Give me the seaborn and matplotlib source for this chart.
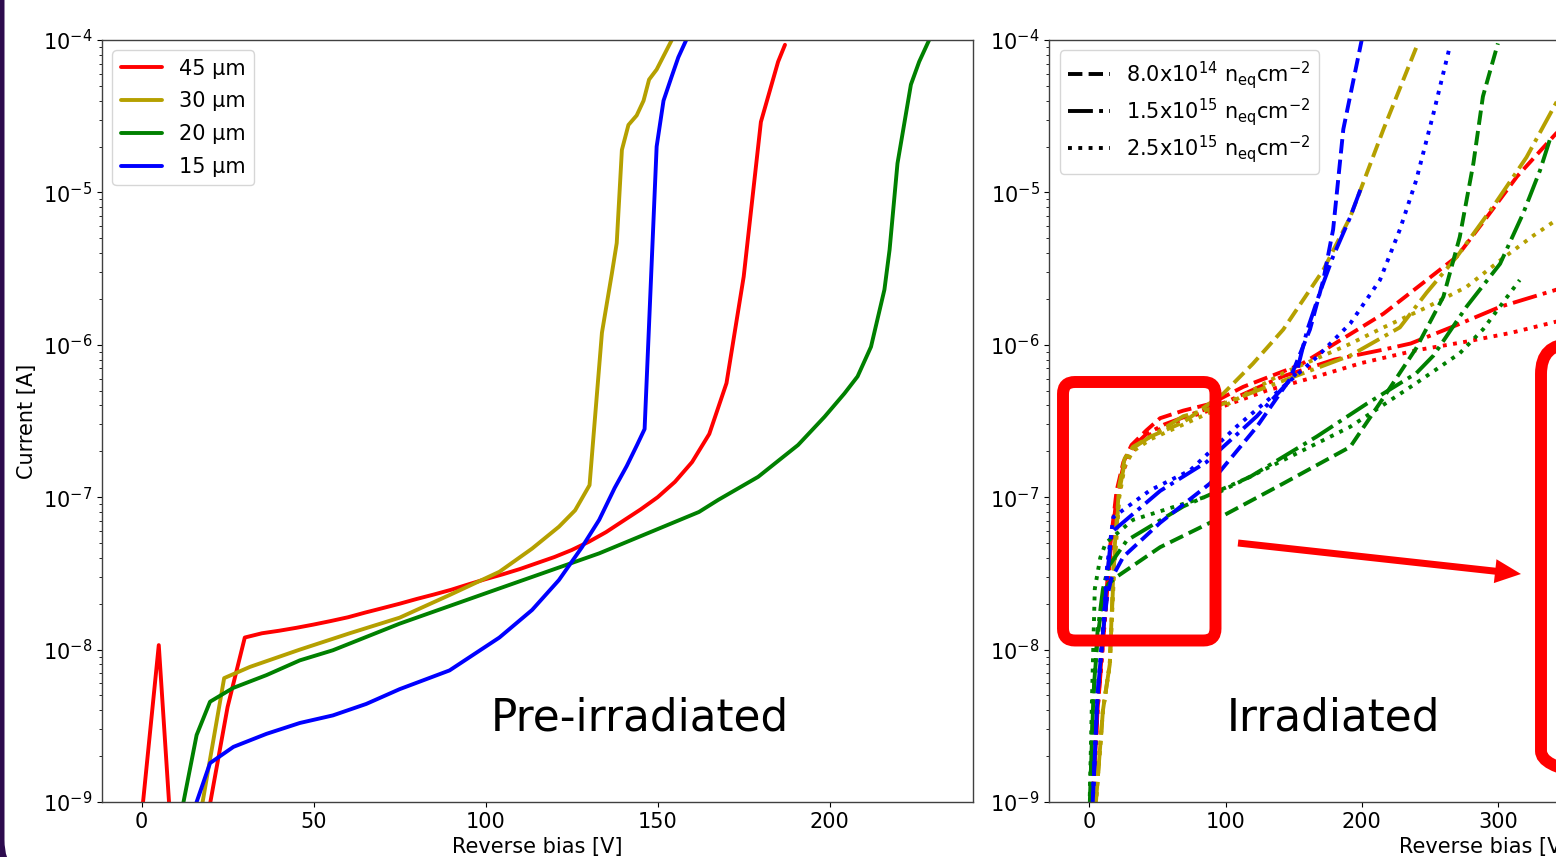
import pandas as pd
import seaborn as sns
import matplotlib
matplotlib.use('Agg')
import matplotlib.pyplot as plt
from matplotlib.lines import Line2D
from matplotlib.patches import FancyBboxPatch, FancyArrow

# --- Pre-irradiated IV curves (bias [V], current [A]) ---
v_45 = [0, 5, 10, 15, 20, 25, 30, 35, 40, 45, 50, 55, 60, 65, 70, 75, 80, 85, 90, 95, 100,
        105, 110, 115, 120, 125, 130, 135, 140, 145, 150, 155, 160, 165, 170, 175, 180, 185, 187]
i_45 = [8e-10, 1.07e-8, 2e-10, 1e-10, 1e-9, 4.2e-9, 1.2e-8, 1.28e-8, 1.33e-8, 1.39e-8, 1.46e-8,
        1.54e-8, 1.63e-8, 1.75e-8, 1.87e-8, 2.0e-8, 2.15e-8, 2.3e-8, 2.47e-8, 2.68e-8, 2.9e-8,
        3.12e-8, 3.38e-8, 3.7e-8, 4.05e-8, 4.5e-8, 5.1e-8, 5.9e-8, 7.0e-8, 8.3e-8, 1.0e-7,
        1.26e-7, 1.7e-7, 2.6e-7, 5.6e-7, 2.8e-6, 2.9e-5, 7.2e-5, 9.3e-5]

v_30 = [15, 24, 31.5, 46, 60.5, 75, 89.5, 104, 113.5, 121.3, 126, 130.2, 131.4, 133.8, 136.7,
        138.1, 139.6, 141.5, 143.9, 145.9, 147.5, 149.7, 154.1]
i_30 = [4.4e-10, 6.5e-9, 7.7e-9, 1.0e-8, 1.28e-8, 1.62e-8, 2.28e-8, 3.24e-8, 4.6e-8, 6.4e-8,
        8.2e-8, 1.2e-7, 2.6e-7, 1.2e-6, 2.95e-6, 4.65e-6, 1.9e-5, 2.77e-5, 3.2e-5, 4.0e-5,
        5.5e-5, 6.4e-5, 1.0e-4]

v_20 = [10, 16, 19.9, 26.6, 36.3, 46, 55.6, 75, 104, 133, 162, 167.6, 179.2, 190.8, 198.5,
        204.3, 208.1, 212, 215.9, 217.4, 219.7, 223.6, 226, 228.9]
i_20 = [5.6e-10, 2.75e-9, 4.55e-9, 5.6e-9, 6.8e-9, 8.5e-9, 9.9e-9, 1.48e-8, 2.52e-8, 4.28e-8,
        8.0e-8, 9.6e-8, 1.36e-7, 2.2e-7, 3.37e-7, 4.8e-7, 6.2e-7, 9.7e-7, 2.3e-6, 4.2e-6,
        1.55e-5, 5.1e-5, 7.2e-5, 1.0e-4]

v_15 = [15, 19.9, 26.7, 36.3, 46, 55.6, 65.3, 75, 89.5, 104, 113.5, 121.3, 128, 133, 137.5,
        141, 144, 146.2, 149.7, 151.7, 154, 156, 158.3]
i_15 = [8.6e-10, 1.8e-9, 2.3e-9, 2.8e-9, 3.3e-9, 3.7e-9, 4.4e-9, 5.5e-9, 7.3e-9, 1.2e-8,
        1.82e-8, 2.86e-8, 4.7e-8, 7.1e-8, 1.15e-7, 1.6e-7, 2.2e-7, 2.8e-7, 2.0e-5, 4.0e-5,
        5.7e-5, 7.7e-5, 1.0e-4]

# --- Irradiated IV curves, one per thickness and fluence ---
v_45_f8 = [2, 6, 10, 15, 20, 25, 31, 42, 52, 69, 89, 113, 155, 216, 270, 292, 314, 343, 355]
i_45_f8 = [8e-10, 4e-9, 1.2e-8, 4.5e-8, 1.1e-7, 1.7e-7, 2.2e-7, 2.75e-7, 3.3e-7, 3.7e-7,
           4.1e-7, 5.3e-7, 7.4e-7, 1.6e-6, 3.8e-6, 6.9e-6, 1.27e-5, 2.45e-5, 3.2e-5]
v_45_f15 = [2, 6, 10, 15, 20, 25, 31, 42, 55, 75, 100, 142, 180, 216, 236, 270, 302, 343, 355]
i_45_f15 = [8e-10, 4e-9, 1.1e-8, 4e-8, 1.0e-7, 1.6e-7, 2.1e-7, 2.6e-7, 3.0e-7, 3.5e-7,
            4.2e-7, 6.2e-7, 8.0e-7, 9.3e-7, 1.02e-6, 1.35e-6, 1.78e-6, 2.3e-6, 2.5e-6]
v_45_f25 = [2, 6, 10, 15, 20, 25, 31, 42, 55, 75, 100, 130, 167, 200, 240, 277, 310, 343, 355]
i_45_f25 = [8e-10, 4e-9, 1.1e-8, 3.8e-8, 9e-8, 1.5e-7, 2.0e-7, 2.5e-7, 2.9e-7, 3.4e-7,
            4.0e-7, 5.0e-7, 6.2e-7, 7.6e-7, 9.2e-7, 1.05e-6, 1.2e-6, 1.42e-6, 1.5e-6]

v_30_f8 = [4, 10, 15, 18, 22, 26, 32, 45, 69, 98.5, 120, 142.4, 171.8, 191.6, 216, 240]
i_30_f8 = [8e-10, 4e-9, 8e-9, 4e-8, 1.2e-7, 1.8e-7, 2.14e-7, 2.5e-7, 3.1e-7, 4.8e-7, 7.5e-7,
           1.26e-6, 3.1e-6, 6.9e-6, 2.6e-5, 8.9e-5]
v_30_f15 = [4, 10, 15, 18, 22, 26, 32, 45, 69, 88.6, 128, 191.6, 228, 247.7, 270, 296.6, 321, 343, 355]
i_30_f15 = [8e-10, 4e-9, 8e-9, 3.5e-8, 1.1e-7, 1.7e-7, 2.1e-7, 2.5e-7, 3.4e-7, 3.8e-7, 5.2e-7,
            8.5e-7, 1.3e-6, 2.2e-6, 3.8e-6, 8.1e-6, 1.7e-5, 3.9e-5, 5e-5]
v_30_f25 = [4, 10, 15, 18, 22, 26, 32, 45, 69, 100, 142, 190, 216, 247, 277, 302, 326, 343, 355]
i_30_f25 = [8e-10, 4e-9, 8e-9, 3e-8, 1e-7, 1.6e-7, 2.0e-7, 2.4e-7, 3.0e-7, 4.0e-7, 6.5e-7,
            1.0e-6, 1.3e-6, 1.75e-6, 2.4e-6, 3.6e-6, 5.2e-6, 6.6e-6, 7.5e-6]

v_20_f8 = [0, 3, 6, 10, 14, 20, 52, 88.6, 142.4, 191.6, 216, 240, 260, 272, 282, 289, 300]
i_20_f8 = [8e-10, 5e-9, 1.2e-8, 2.2e-8, 2.7e-8, 3.0e-8, 4.7e-8, 6.8e-8, 1.23e-7, 2.14e-7,
           4.5e-7, 9.5e-7, 2.07e-6, 5.1e-6, 1.55e-5, 4.26e-5, 9.5e-5]
v_20_f15 = [0, 3, 6, 10, 14, 27.5, 69, 118, 167, 203.6, 240, 252.7, 277, 301.6, 318.6, 331, 338]
i_20_f15 = [8e-10, 5e-9, 1.3e-8, 2.5e-8, 3.5e-8, 5.2e-8, 8.7e-8, 1.36e-7, 2.5e-7, 4.1e-7,
            6.5e-7, 8.5e-7, 1.78e-6, 3.4e-6, 7.3e-6, 1.4e-5, 2.2e-5]
v_20_f25 = [0, 2, 4, 8, 12, 32, 93.5, 142.4, 191.6, 240, 272, 289, 316]
i_20_f25 = [8e-10, 5e-9, 2.5e-8, 4e-8, 5e-8, 7.1e-8, 1.06e-7, 1.75e-7, 2.9e-7, 5.6e-7,
            8.8e-7, 1.26e-6, 2.66e-6]

v_15_f8 = [2, 6, 10, 13, 16, 25, 52, 88.6, 123, 147, 162, 171.8, 179, 186.5, 200]
i_15_f8 = [8e-10, 5e-9, 1.3e-8, 2.2e-8, 2.9e-8, 4.07e-8, 6.8e-8, 1.23e-7, 2.9e-7, 5.9e-7,
           1.26e-6, 2.66e-6, 5.7e-6, 2.6e-5, 1e-4]
v_15_f15 = [2, 6, 10, 13, 16.4, 52, 86, 123, 152, 160, 170, 179, 191.6, 199]
i_15_f15 = [8e-10, 5e-9, 1.3e-8, 3e-8, 5.9e-8, 1.1e-7, 1.7e-7, 3.4e-7, 6.5e-7, 1.25e-6,
            2.3e-6, 3.8e-6, 6.9e-6, 1.04e-5]
v_15_f25 = [2, 6, 10, 13, 17.6, 44.6, 74, 108, 142.5, 167, 191.6, 213.4, 228, 240, 252.7, 265]
i_15_f25 = [8e-10, 5e-9, 1.3e-8, 3.5e-8, 7.4e-8, 1.11e-7, 1.5e-7, 2.9e-7, 5.3e-7, 8.3e-7,
            1.38e-6, 2.66e-6, 5.7e-6, 1.2e-5, 3.3e-5, 9.3e-5]

thicknesses = ['45 µm', '30 µm', '20 µm', '15 µm']
colors = ['#ff0000', '#b5a000', '#008000', '#0000ff']
fluences = ['8.0e14', '1.5e15', '2.5e15']
fluence_labels = [r'8.0x10$^{14}$ n$_{\mathrm{eq}}$cm$^{-2}$',
                  r'1.5x10$^{15}$ n$_{\mathrm{eq}}$cm$^{-2}$',
                  r'2.5x10$^{15}$ n$_{\mathrm{eq}}$cm$^{-2}$']

# Build long-form tables
pre = [(v_45, i_45), (v_30, i_30), (v_20, i_20), (v_15, i_15)]
pre_df = pd.concat([pd.DataFrame({'bias': v, 'current': i, 'thickness': t})
                    for (v, i), t in zip(pre, thicknesses)], ignore_index=True)

irr = {('45 µm', '8.0e14'): (v_45_f8, i_45_f8), ('45 µm', '1.5e15'): (v_45_f15, i_45_f15),
       ('45 µm', '2.5e15'): (v_45_f25, i_45_f25), ('30 µm', '8.0e14'): (v_30_f8, i_30_f8),
       ('30 µm', '1.5e15'): (v_30_f15, i_30_f15), ('30 µm', '2.5e15'): (v_30_f25, i_30_f25),
       ('20 µm', '8.0e14'): (v_20_f8, i_20_f8), ('20 µm', '1.5e15'): (v_20_f15, i_20_f15),
       ('20 µm', '2.5e15'): (v_20_f25, i_20_f25), ('15 µm', '8.0e14'): (v_15_f8, i_15_f8),
       ('15 µm', '1.5e15'): (v_15_f15, i_15_f15), ('15 µm', '2.5e15'): (v_15_f25, i_15_f25)}
irr_df = pd.concat([pd.DataFrame({'bias': v, 'current': i, 'thickness': k[0], 'fluence': k[1]})
                    for k, (v, i) in irr.items()], ignore_index=True)

palette = dict(zip(thicknesses, colors))
dash_codes = {'8.0e14': (3.7, 1.6), '1.5e15': (6.4, 1.6, 1.0, 1.6), '2.5e15': (1.0, 1.65)}

sns.set_style('ticks')
plt.rcParams['font.family'] = ['DejaVu Sans']
plt.rcParams.update({'font.size': 15, 'axes.edgecolor': '0.25', 'xtick.color': 'black',
                     'ytick.color': 'black', 'text.color': 'black', 'axes.labelcolor': 'black',
                     'axes.linewidth': 1.0})

W, H = 1556, 857
fig = plt.figure(figsize=(W / 100, H / 100), dpi=100)
fig.patch.set_facecolor('#2d0b4e')

# slide background: white rounded card on purple
bg = fig.add_axes([0, 0, 1, 1], zorder=-5)
bg.set_xlim(0, W)
bg.set_ylim(H, 0)
bg.axis('off')
bg.add_patch(FancyBboxPatch((4.5, -100), 1700, 980, boxstyle='round,pad=0,rounding_size=40',
                            fc='white', ec='none'))

ax1 = fig.add_axes([102 / W, 55 / H, 870.5 / W, 762 / H])
ax2 = fig.add_axes([1049.3 / W, 55 / H, 870.5 / W, 762 / H])

for ax in (ax1, ax2):
    ax.set_yscale('log')

sns.lineplot(data=pre_df, x='bias', y='current', hue='thickness', palette=palette,
             sort=False, estimator=None, linewidth=2.8, legend=False, ax=ax1)
sns.lineplot(data=irr_df, x='bias', y='current', hue='thickness', style='fluence',
             palette=palette, dashes=dash_codes, sort=False, estimator=None,
             linewidth=2.8, legend=False, ax=ax2)

ax1.set_xlim(-11.5, 241.5)
ax2.set_xlim(-29.4, 609.8)
for ax in (ax1, ax2):
    ax.set_ylim(1e-9, 1e-4)
    ax.set_xlabel('Reverse bias [V]', fontsize=15)
    ax.tick_params(labelsize=15)
    for s in ax.spines.values():
        s.set_visible(True)
ax1.set_ylabel('Current [A]', fontsize=15)
ax2.set_ylabel('')

h1 = [Line2D([], [], color=c, lw=2.8) for c in colors]
ax1.legend(h1, thicknesses, loc='upper left', fontsize=15, labelspacing=0.61)
h2 = [Line2D([], [], color='black', lw=2.8, dashes=dash_codes[f]) for f in fluences]
ax2.legend(h2, fluence_labels, loc='upper left', fontsize=15, labelspacing=0.25)

ax1.text(0.618, 0.094, 'Pre-irradiated', transform=ax1.transAxes, ha='center',
         va='baseline', fontsize=31.5)
ax2.text(0.327, 0.094, 'Irradiated', transform=ax2.transAxes, ha='center',
         va='baseline', fontsize=31.5)

# red call-outs drawn over the slide, in pixel units
ov = fig.add_axes([0, 0, 1, 1], zorder=10)
ov.set_xlim(0, W)
ov.set_ylim(H, 0)
ov.axis('off')
ov.patch.set_alpha(0)
ov.add_patch(FancyBboxPatch((1063, 382), 152.5, 258.5, boxstyle='round,pad=0,rounding_size=12',
                            fc='none', ec='#ff0000', lw=8.6))
ov.add_patch(FancyBboxPatch((1541, 344), 200, 437, boxstyle='round,pad=0,rounding_size=30',
                            fc='none', ec='#ff0000', lw=8.6))
ov.add_patch(FancyArrow(1238, 543, 283, 31, width=7, head_width=24, head_length=26,
                        length_includes_head=True, fc='#ff0000', ec='none'))

fig.savefig('out.png', dpi=100)
